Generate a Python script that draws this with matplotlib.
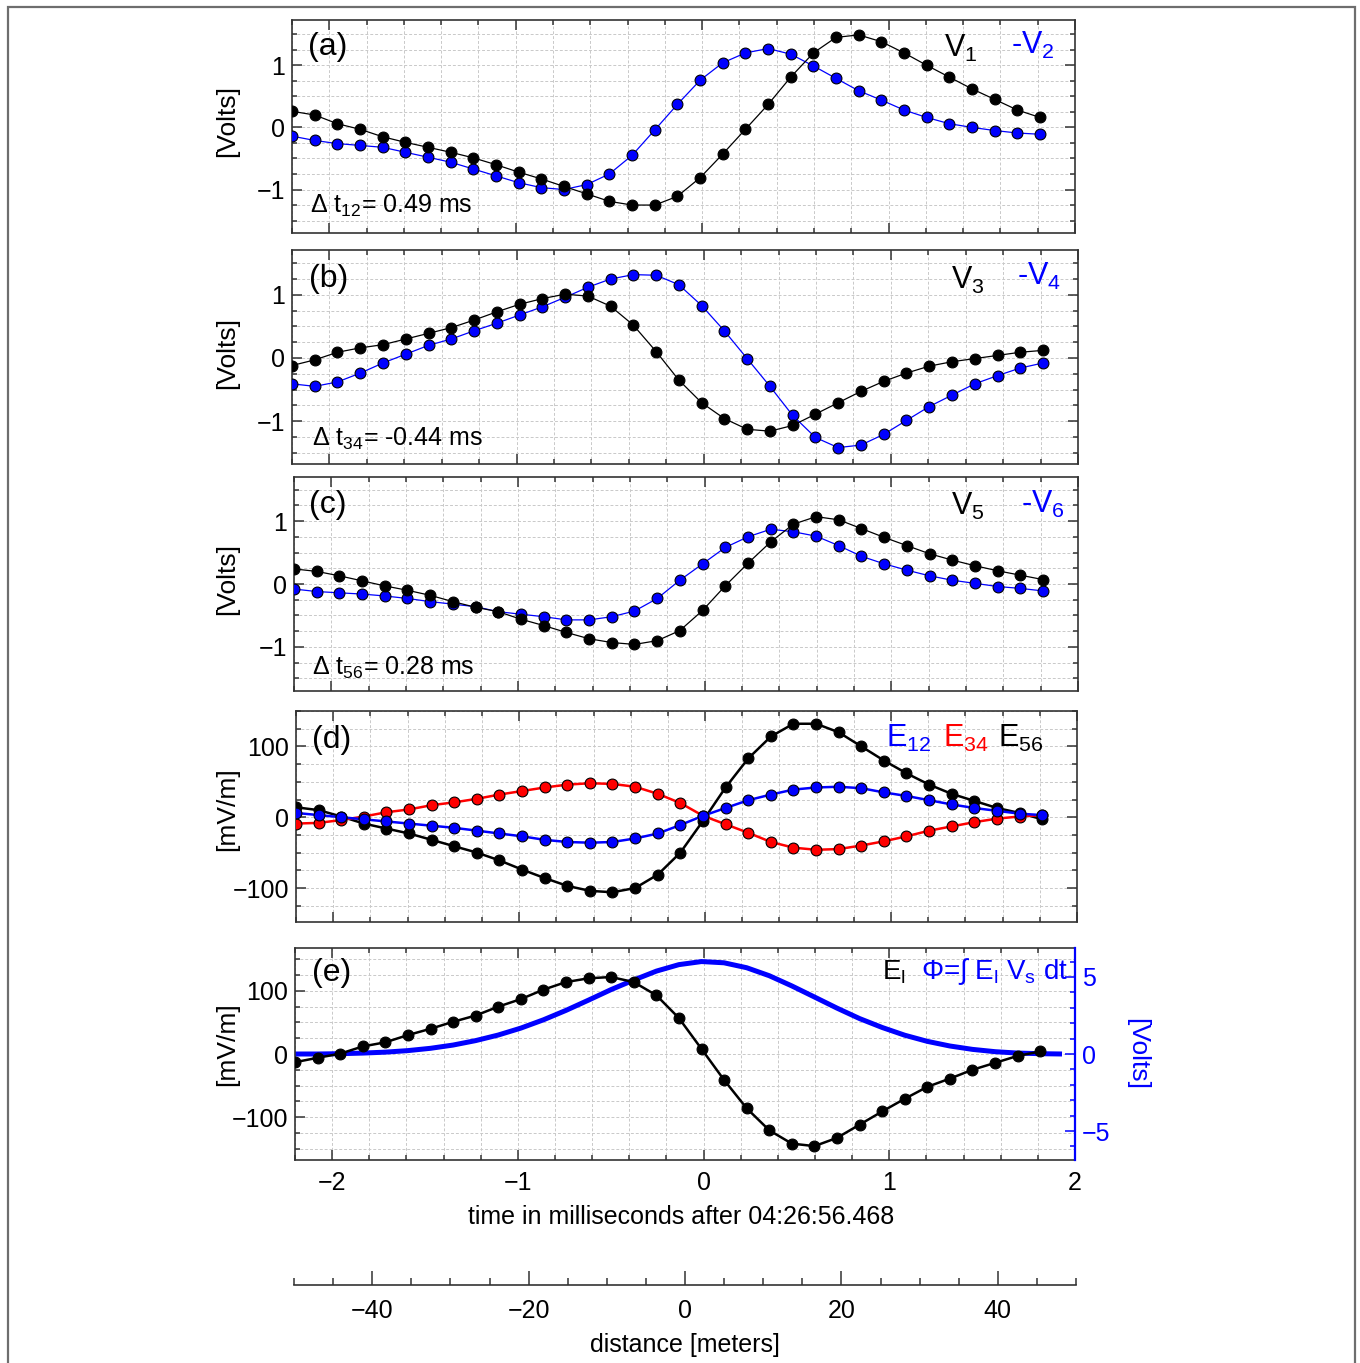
import matplotlib
matplotlib.use("Agg")
import matplotlib.pyplot as plt
from matplotlib.ticker import MultipleLocator
from matplotlib.patches import Rectangle

plt.rcParams['font.family'] = ['Liberation Sans', 'DejaVu Sans']
plt.rcParams['mathtext.fontset'] = 'custom'
plt.rcParams['mathtext.rm'] = 'Liberation Sans'
plt.rcParams['mathtext.it'] = 'Liberation Sans:italic'
plt.rcParams['mathtext.default'] = 'regular'
plt.rcParams['axes.unicode_minus'] = True

# ---------------- data ----------------
t_ms = [-2.200, -2.078, -1.957, -1.835, -1.714, -1.592, -1.470, -1.349, -1.227,
        -1.106, -0.984, -0.862, -0.741, -0.619, -0.498, -0.376, -0.254, -0.133,
        -0.011, 0.110, 0.232, 0.354, 0.475, 0.597, 0.718, 0.840, 0.962, 1.083,
        1.205, 1.326, 1.448, 1.570, 1.691, 1.813]

v1 = [0.26, 0.20, 0.06, -0.03, -0.15, -0.24, -0.32, -0.40, -0.49, -0.60, -0.72,
      -0.83, -0.95, -1.07, -1.19, -1.25, -1.25, -1.11, -0.81, -0.43, -0.03, 0.37,
      0.81, 1.20, 1.45, 1.49, 1.38, 1.20, 1.00, 0.81, 0.62, 0.45, 0.28, 0.16]
minus_v2 = [-0.14, -0.21, -0.26, -0.29, -0.32, -0.40, -0.48, -0.56, -0.67, -0.78,
            -0.89, -0.97, -1.00, -0.92, -0.75, -0.45, -0.04, 0.37, 0.76, 1.04, 1.20,
            1.27, 1.18, 0.99, 0.79, 0.59, 0.44, 0.28, 0.16, 0.06, 0.00, -0.05, -0.09,
            -0.11]
v3 = [-0.12, -0.03, 0.09, 0.16, 0.21, 0.30, 0.39, 0.48, 0.60, 0.73, 0.85, 0.94,
      1.01, 0.98, 0.82, 0.52, 0.10, -0.35, -0.71, -0.96, -1.13, -1.16, -1.07, -0.89,
      -0.71, -0.53, -0.37, -0.24, -0.13, -0.06, -0.01, 0.04, 0.09, 0.12]
minus_v4 = [-0.41, -0.45, -0.38, -0.24, -0.08, 0.06, 0.20, 0.30, 0.43, 0.55, 0.68,
            0.81, 0.96, 1.12, 1.25, 1.32, 1.31, 1.16, 0.83, 0.43, -0.01, -0.45, -0.91,
            -1.26, -1.42, -1.38, -1.21, -0.99, -0.77, -0.59, -0.41, -0.28, -0.16, -0.08]
v5 = [0.24, 0.20, 0.13, 0.05, -0.03, -0.10, -0.18, -0.28, -0.37, -0.44, -0.56, -0.66,
      -0.77, -0.87, -0.93, -0.96, -0.90, -0.74, -0.42, -0.03, 0.33, 0.67, 0.95, 1.07,
      1.02, 0.88, 0.74, 0.61, 0.48, 0.38, 0.29, 0.21, 0.14, 0.07]
minus_v6 = [-0.08, -0.12, -0.14, -0.16, -0.19, -0.23, -0.28, -0.32, -0.36, -0.44,
            -0.48, -0.52, -0.57, -0.57, -0.52, -0.43, -0.23, 0.06, 0.32, 0.58, 0.75,
            0.87, 0.83, 0.76, 0.61, 0.44, 0.32, 0.22, 0.13, 0.06, 0.01, -0.04, -0.07,
            -0.11]

e12 = [6, 3, 0, -3, -6, -9, -12, -15, -19, -23, -27, -32, -35, -36, -35, -30, -23,
       -11, 2, 13, 24, 32, 39, 42, 43, 41, 35, 30, 24, 18, 13, 9, 5, 3]
e34 = [-9, -8, -4, 1, 7, 11, 17, 21, 26, 32, 37, 42, 46, 48, 47, 43, 33, 20, 2, -10,
       -22, -35, -43, -46, -45, -40, -34, -27, -19, -13, -7, -2, 1, 3]
e56 = [14, 10, 1, -9, -16, -23, -32, -41, -50, -61, -74, -86, -97, -104, -106, -100,
       -81, -50, -5, 42, 83, 114, 132, 132, 120, 100, 80, 62, 46, 33, 23, 13, 6, -3]

e_l = [-13, -6, 0.5, 12, 18.5, 30, 40, 51, 61, 75, 87, 102, 114, 120, 122, 114, 93,
       57, 8, -41, -86, -121, -142, -146, -133, -112, -91, -71, -52, -39, -25, -14,
       -3, 4]

phi_t = t_ms + [1.93]
phi_volts = [0.0, 0.0, 0.02, 0.06, 0.12, 0.22, 0.37, 0.58, 0.87, 1.23, 1.68, 2.22,
             2.83, 3.50, 4.18, 4.80, 5.38, 5.80, 6.00, 5.92, 5.60, 5.08, 4.42, 3.70,
             2.98, 2.30, 1.72, 1.22, 0.82, 0.52, 0.30, 0.15, 0.06, 0.02, 0.0]

dist_ticks_major = [-40, -20, 0, 20, 40]

# ---------------- figure ----------------
W, H = 1360, 1363
fig = plt.figure(figsize=(W / 100, H / 100), dpi=100)

fig.patches.append(Rectangle((8 / W, -0.01), (1355 - 8) / W, 1.01 - 7 / H,
                             transform=fig.transFigure, fill=False,
                             ec='#6e6e6e', lw=1.6))


def px_axes(l, t, r, b):
    return fig.add_axes([l / W, 1 - b / H, (r - l) / W, (b - t) / H])


SP = '#333333'
GRID = dict(color='#c9c9c9', linestyle=(0, (3, 2)), linewidth=0.7)


def style(ax, ylim, ymaj, ymin, right=True):
    ax.set_xlim(-2.2, 2.0)
    ax.set_ylim(*ylim)
    ax.xaxis.set_major_locator(MultipleLocator(1))
    ax.xaxis.set_minor_locator(MultipleLocator(0.2))
    ax.yaxis.set_major_locator(MultipleLocator(ymaj))
    ax.yaxis.set_minor_locator(MultipleLocator(ymin))
    ax.tick_params(which='both', direction='in', top=True, right=right,
                   width=1.1, color=SP, labelsize=18, pad=5)
    ax.tick_params(which='major', length=7)
    ax.tick_params(which='minor', length=3.5)
    ax.grid(which='both', **GRID)
    ax.set_axisbelow(True)
    for s in ax.spines.values():
        s.set_linewidth(1.2)
        s.set_color(SP)


def dots(ax, y, color, lw):
    ax.plot(t_ms, y, '-', color=color, lw=lw, zorder=3)
    ax.plot(t_ms, y, 'o', ms=7.8, mfc=color, mec='black', mew=0.8, zorder=4)


def ylab(y, text, color='black', x=227, rot=90):
    fig.text(x / W, 1 - y / H, text, rotation=rot, ha='center', va='center',
             fontsize=19, color=color)


# Panel (a)
axa = px_axes(292, 20, 1075, 233)
style(axa, (-1.70, 1.73), 1, 0.25)
axa.tick_params(labelbottom=False)
dots(axa, minus_v2, 'blue', 0.9)
dots(axa, v1, 'black', 0.9)
axa.text(0.020, 0.873, '(a)', transform=axa.transAxes, fontsize=23, va='center')
axa.text(0.833, 0.868, 'V$_1$', transform=axa.transAxes, fontsize=22, va='center')
axa.text(0.918, 0.880, '-V$_2$', transform=axa.transAxes, fontsize=22, va='center',
         color='blue')
axa.text(0.023, 0.127, 'Δ t$_{12}$= 0.49 ms', transform=axa.transAxes,
         fontsize=18, va='center')
ylab(121, '[Volts]')

# Panel (b)
axb = px_axes(292, 250, 1078, 464)
style(axb, (-1.68, 1.71), 1, 0.25)
axb.tick_params(labelbottom=False)
dots(axb, minus_v4, 'blue', 0.9)
dots(axb, v3, 'black', 0.9)
axb.text(0.021, 0.864, '(b)', transform=axb.transAxes, fontsize=23, va='center')
axb.text(0.838, 0.860, 'V$_3$', transform=axb.transAxes, fontsize=22, va='center')
axb.text(0.922, 0.875, '-V$_4$', transform=axb.transAxes, fontsize=22, va='center',
         color='blue')
axb.text(0.025, 0.117, 'Δ t$_{34}$= -0.44 ms', transform=axb.transAxes,
         fontsize=18, va='center')
ylab(353, '[Volts]')

# Panel (c)
axc = px_axes(294, 477, 1078, 691)
style(axc, (-1.70, 1.70), 1, 0.25)
axc.tick_params(labelbottom=False)
dots(axc, minus_v6, 'blue', 0.9)
dots(axc, v5, 'black', 0.9)
axc.text(0.019, 0.869, '(c)', transform=axc.transAxes, fontsize=23, va='center')
axc.text(0.838, 0.862, 'V$_5$', transform=axc.transAxes, fontsize=22, va='center')
axc.text(0.927, 0.872, '-V$_6$', transform=axc.transAxes, fontsize=22, va='center',
         color='blue')
axc.text(0.023, 0.107, 'Δ t$_{56}$= 0.28 ms', transform=axc.transAxes,
         fontsize=18, va='center')
ylab(579, '[Volts]')

# Panel (d)
axd = px_axes(296, 711, 1077, 922)
style(axd, (-148, 150), 100, 25)
axd.tick_params(labelbottom=False)
dots(axd, e56, 'black', 1.8)
dots(axd, e34, 'red', 1.8)
dots(axd, e12, 'blue', 1.8)
axd.text(0.020, 0.863, '(d)', transform=axd.transAxes, fontsize=23, va='center')
axd.text(0.756, 0.870, 'E$_{12}$', transform=axd.transAxes, fontsize=22,
         va='center', color='blue')
axd.text(0.829, 0.870, 'E$_{34}$', transform=axd.transAxes, fontsize=22,
         va='center', color='red')
axd.text(0.899, 0.870, 'E$_{56}$', transform=axd.transAxes, fontsize=22,
         va='center', color='black')
ylab(809, '[mV/m]')

# Panel (e)
axe = px_axes(295, 948, 1075, 1160)
style(axe, (-168, 168), 100, 25, right=False)
axe.spines['right'].set_visible(False)
axe.tick_params(axis='x', pad=8)
axr = axe.twinx()
axr.set_ylim(-6.88, 6.88)
axr.yaxis.set_major_locator(MultipleLocator(5))
axr.yaxis.set_minor_locator(MultipleLocator(1))
axr.tick_params(which='both', direction='in', colors='blue', width=1.1,
                labelsize=18, pad=5)
axr.tick_params(which='major', length=7)
axr.tick_params(which='minor', length=3.5)
for k in ('left', 'top', 'bottom'):
    axr.spines[k].set_visible(False)
axr.spines['right'].set_color('blue')
axr.spines['right'].set_linewidth(1.6)
axe.plot(phi_t, phi_volts, '-', color='blue', lw=3.6, transform=axr.transData,
         zorder=2, solid_capstyle='butt')
axe.plot(t_ms, e_l, '-', color='black', lw=1.8, zorder=3)
axe.plot(t_ms, e_l, 'o', ms=7.8, mfc='black', mec='black', mew=0.8, zorder=4)
axe.text(0.022, 0.882, '(e)', transform=axe.transAxes, fontsize=23, va='center')
axe.text(0.753, 0.887, 'E$_l$', transform=axe.transAxes, fontsize=20, va='center')
axe.text(0.803, 0.887, 'Φ=∫ E$_l$ V$_s$ dt', transform=axe.transAxes, fontsize=20,
         va='center', color='blue')
ylab(1044, '[mV/m]')
ylab(1054, '[Volts]', color='blue', x=1137, rot=270)

fig.text(681 / W, 1 - 1217 / H, 'time in milliseconds after 04:26:56.468',
         ha='center', va='center', fontsize=18)

# Distance axis
axs = fig.add_axes([294 / W, 1 - 1285 / H, 782 / W, 0.0005])
axs.set_xlim(-50, 50)
axs.set_yticks([])
for k in ('left', 'right', 'top'):
    axs.spines[k].set_visible(False)
axs.spines['bottom'].set_linewidth(1.2)
axs.spines['bottom'].set_color(SP)
axs.patch.set_visible(False)
axs.set_xticks(dist_ticks_major)
axs.xaxis.set_minor_locator(MultipleLocator(5))
axs.tick_params(which='both', direction='in', width=1.1, color=SP, labelsize=18,
                pad=10)
axs.tick_params(which='major', length=10)
axs.tick_params(which='minor', length=5)
fig.text(685 / W, 1 - 1345 / H, 'distance [meters]', ha='center', va='center',
         fontsize=18)

fig.savefig('out.png', dpi=100)
